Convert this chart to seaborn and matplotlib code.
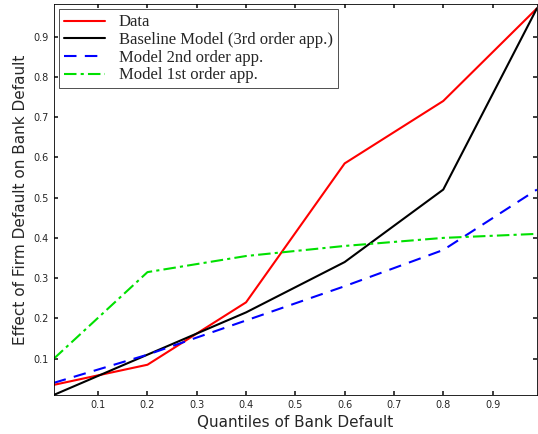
import numpy as np
import pandas as pd
import matplotlib
matplotlib.use("Agg")
import matplotlib.pyplot as plt
import seaborn as sns

sns.set_theme(style="white")
plt.rcParams['font.family'] = ['DejaVu Sans']

quantiles = [0.01, 0.2, 0.4, 0.6, 0.8, 0.99]
data_vals = [0.035, 0.085, 0.24, 0.585, 0.74, 0.97]
baseline_vals = [0.01, 0.11, 0.215, 0.34, 0.52, 0.97]
model2_vals = [0.04, 0.11, 0.195, 0.28, 0.37, 0.52]
model1_vals = [0.10, 0.315, 0.355, 0.38, 0.40, 0.41]

fig, ax = plt.subplots(figsize=(5.38, 4.34), dpi=100)
sns.lineplot(x=quantiles, y=data_vals, color='#ff0000', lw=1.5, label='Data', ax=ax)
sns.lineplot(x=quantiles, y=baseline_vals, color='black', lw=1.5,
             label='Baseline Model (3rd order app.)', ax=ax)
sns.lineplot(x=quantiles, y=model2_vals, color='#0000ff', lw=1.5, ls=(0, (6, 4)),
             label='Model 2nd order app.', ax=ax)
sns.lineplot(x=quantiles, y=model1_vals, color='#00e000', lw=1.5, ls=(0, (6, 2, 1.5, 2)),
             label='Model 1st order app.', ax=ax)

ax.set_xlim(0.01, 0.99)
ax.set_ylim(0.01, 0.98)
ticks = np.arange(0.1, 0.91, 0.1).round(1)
ax.set_xticks(ticks)
ax.set_yticks(ticks)
ax.set_xticklabels([f"{t:g}" for t in ticks])
ax.set_yticklabels([f"{t:g}" for t in ticks])
ax.tick_params(labelsize=7, direction='in', length=3, left=True, bottom=True, top=True, right=True)
for s in ax.spines.values():
    s.set_color('black')
    s.set_linewidth(0.6)
ax.set_xlabel('Quantiles of Bank Default', fontsize=11)
ax.set_ylabel('Effect of Firm Default on Bank Default', fontsize=11)
leg = ax.legend(loc='upper left', prop={'family': 'Liberation Serif', 'size': 12},
                frameon=True, fancybox=False, edgecolor='black', borderpad=0.3,
                labelspacing=0.1, handlelength=2.5, borderaxespad=0.3)
leg.get_frame().set_linewidth(0.6)
plt.subplots_adjust(left=0.1, right=0.998, top=0.99, bottom=0.09)
fig.savefig('out.png', dpi=100)
